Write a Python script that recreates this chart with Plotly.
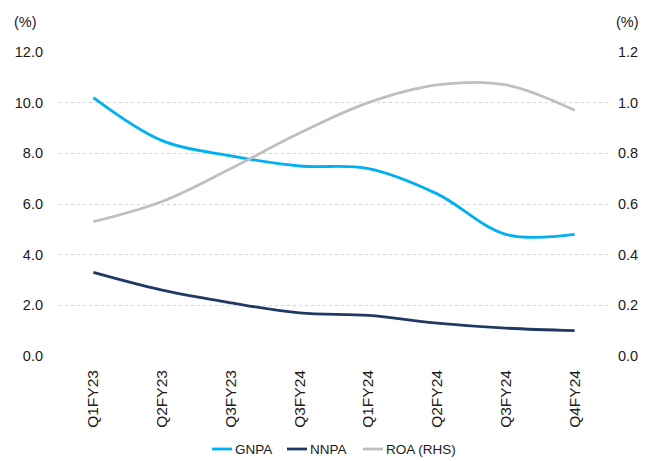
import plotly.graph_objects as go

# Quarterly asset-quality and profitability metrics
quarters = ["Q1FY23", "Q2FY23", "Q3FY23", "Q3FY24", "Q1FY24", "Q2FY24", "Q3FY24", "Q4FY24"]
gnpa = [10.2, 8.5, 7.9, 7.5, 7.4, 6.4, 4.8, 4.8]
nnpa = [3.3, 2.6, 2.1, 1.7, 1.6, 1.3, 1.1, 1.0]
roa = [0.53, 0.61, 0.74, 0.88, 1.0, 1.07, 1.07, 0.97]

left_ticks = [0, 2, 4, 6, 8, 10, 12]
right_ticks = [0, 0.2, 0.4, 0.6, 0.8, 1.0, 1.2]

FONT = "Liberation Sans, Arial, sans-serif"
TXT = "#1a1a1a"
GRID = "#d4d4d4"

W, H = 664, 461
M = dict(l=59, r=55, t=52, b=105)
PW = W - M["l"] - M["r"]
PH = H - M["t"] - M["b"]

# (name, values, colour, y axis, legend sample start in px)
series = [
    ("GNPA", gnpa, "#00B0F0", "y", 212),
    ("NNPA", nnpa, "#203864", "y", 287),
    ("ROA (RHS)", roa, "#BFBFBF", "y2", 363),
]

# numeric positions keep repeated quarter labels on separate slots
xpos = list(range(len(quarters)))

fig = go.Figure()
for name, vals, color, axis, _ in series:
    fig.add_trace(go.Scatter(
        x=xpos, y=vals, name=name, mode="lines", yaxis=axis,
        line=dict(color=color, width=2.8, shape="spline", smoothing=1.0),
    ))

fig.update_layout(
    width=W, height=H,
    margin=M,
    paper_bgcolor="white", plot_bgcolor="white",
    font=dict(family=FONT, size=14, color=TXT),
    showlegend=False,
    xaxis=dict(
        range=[-0.5, len(quarters) - 0.5],
        tickmode="array", tickvals=xpos, ticktext=quarters,
        tickangle=-90, showgrid=False, zeroline=False, showline=False,
        ticks="", ticklabelstandoff=10,
        tickfont=dict(size=15.5, color=TXT),
    ),
    yaxis=dict(
        range=[0, 12], tickmode="array", tickvals=left_ticks,
        ticktext=[f"{v:.1f}" for v in left_ticks],
        showgrid=True, gridcolor=GRID, griddash="dot", gridwidth=1,
        zeroline=False, showline=False, ticks="", ticklabelstandoff=15,
        tickfont=dict(size=14.5, color=TXT),
    ),
    yaxis2=dict(
        range=[0, 1.2], overlaying="y", side="right",
        tickmode="array", tickvals=right_ticks,
        ticktext=[f"{v:.1f}" for v in right_ticks],
        showgrid=False, zeroline=False, showline=False, ticks="",
        ticklabelstandoff=8, tickfont=dict(size=14.5, color=TXT),
    ),
)

# axis unit captions
fig.add_annotation(text="(%)", xref="paper", yref="paper", x=(12 - M["l"]) / PW, y=1.1,
                   xanchor="left", yanchor="middle", showarrow=False,
                   font=dict(size=14.5, color=TXT))
fig.add_annotation(text="(%)", xref="paper", yref="paper", x=(614 - M["l"]) / PW, y=1.1,
                   xanchor="left", yanchor="middle", showarrow=False,
                   font=dict(size=14.5, color=TXT))

# compact legend below the category labels: short line sample followed by name
leg_y = (H - M["b"] - 449) / PH
for name, _, color, _, x0 in series:
    fig.add_shape(type="line", xref="paper", yref="paper",
                  x0=(x0 - M["l"]) / PW, x1=(x0 + 20 - M["l"]) / PW,
                  y0=leg_y, y1=leg_y, line=dict(color=color, width=2.8))
    fig.add_annotation(text=name, xref="paper", yref="paper",
                       x=(x0 + 20.5 - M["l"]) / PW, y=leg_y,
                       xanchor="left", yanchor="middle", showarrow=False,
                       font=dict(size=13.5, color=TXT))

fig.write_html("out.html")
